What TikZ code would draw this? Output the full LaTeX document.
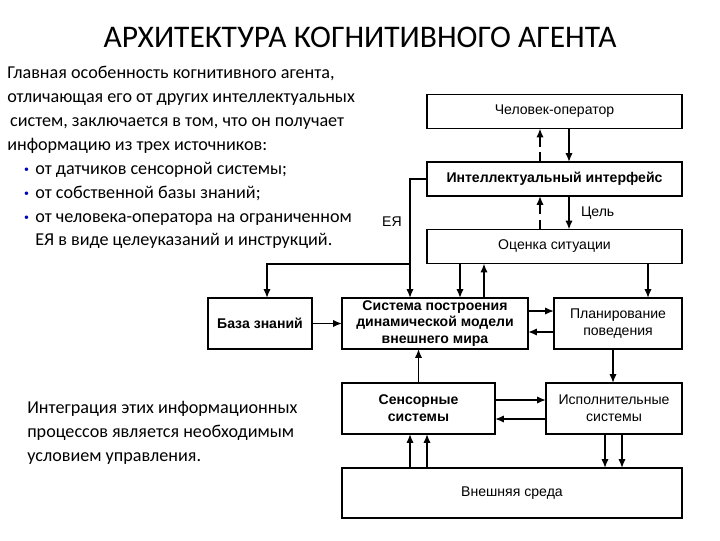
\documentclass[tikz,border=0pt]{standalone}
\usepackage{fontspec}
\setmainfont{Carlito}
\newfontfamily\arialfont{Liberation Sans}
\usepackage{tikz}
\usetikzlibrary{arrows.meta}
\usepackage{xcolor}

\newcommand{\pnkt}{\makebox[8pt][l]{\raisebox{1pt}{\textcolor{blue!75!black}{\scriptsize\textbullet}}}}

\begin{document}
\begin{tikzpicture}[x=0.025cm,y=-0.025cm,
    blok/.style={draw,line width=1.2pt,inner sep=0pt,outer sep=0pt,align=center,
      font=\arialfont\fontsize{10}{12}\selectfont},
    strl/.style={-{Latex[length=2.2mm,width=1.8mm]},line width=1.1pt},
    pstrl/.style={strl,dash pattern=on 7pt off 4pt},
    tekst/.style={anchor=north west,align=left,inner sep=0pt,font=\fontsize{12.9}{17}\selectfont}]
  \useasboundingbox (0,0) rectangle (720,540);

  \node (titul) at (360,37) {\fontsize{22.4}{26}\selectfont АРХИТЕКТУРА КОГНИТИВНОГО АГЕНТА};

  \node[tekst] (opis) at (7,66) {Главная особенность когнитивного агента,\\
    отличающая его от других интеллектуальных\\
    \hspace*{2pt}систем, заключается в том, что он получает\\
    информацию из трех источников:\\
    \hspace*{12pt}\pnkt от датчиков сенсорной системы;\\
    \hspace*{12pt}\pnkt от собственной базы знаний;\\
    \hspace*{12pt}\pnkt от человека-оператора на ограниченном\\
    \hspace*{20pt}ЕЯ в виде целеуказаний и инструкций.};
  \node[tekst] (itog) at (27,401) {Интеграция этих информационных\\
    процессов является необходимым\\
    условием управления.};

  % блоки схемы
  \node[blok,minimum width=6.375cm,minimum height=0.85cm] (oper) at (554.5,111.5) {Человек-оператор};
  \node[blok,minimum width=6.375cm,minimum height=0.85cm] (iface) at (554.5,179) {\bfseries Интеллектуальный интерфейс};
  \node[blok,minimum width=6.375cm,minimum height=0.85cm] (ocenka) at (554.5,246.5) {Оценка ситуации};
  \node[blok,minimum width=2.6cm,minimum height=1.275cm] (baza) at (260,323.5) {\bfseries База знаний};
  \node[blok,minimum width=4.65cm,minimum height=1.275cm] (sys) at (435,323.5) {\bfseries Система построения\\ \bfseries динамической модели\\ \bfseries внешнего мира};
  \node[blok,minimum width=3.2cm,minimum height=1.275cm] (plan) at (618,323.5) {Планирование\\ поведения};
  \node[blok,minimum width=3.825cm,minimum height=1.275cm] (sens) at (418.5,408.5) {\bfseries Сенсорные\\ \bfseries системы};
  \node[blok,minimum width=3.4cm,minimum height=1.275cm] (isp) at (614,408.5) {Исполнительные\\ системы};
  \node[blok,minimum width=8.5cm,minimum height=1.25cm] (sreda) at (512,493) {Внешняя среда};

  % опорные линии для стрелок
  \coordinate (xa) at (540,0);
  \coordinate (xb) at (569,0);
  \coordinate (xd) at (267,0);
  \coordinate (xe) at (410,0);
  \coordinate (xf) at (460,0);
  \coordinate (xg) at (484,0);
  \coordinate (xh) at (648,0);
  \coordinate (xi) at (613,0);
  \coordinate (xj) at (410,0);
  \coordinate (xk) at (427,0);
  \coordinate (xl) at (605,0);
  \coordinate (xm) at (622,0);
  \coordinate (ya) at (0,311);
  \coordinate (yb) at (0,332);
  \coordinate (yc) at (0,400);
  \coordinate (yd) at (0,419);
  \coordinate (ep) at (410,264);

  \draw[pstrl] (iface.north -| xa) -- (oper.south -| xa);
  \draw[strl] (oper.south -| xb) -- (iface.north -| xb);
  \draw[pstrl] (ocenka.north -| xa) -- (iface.south -| xa);
  \draw[strl] (iface.south -| xb) -- (ocenka.north -| xb)
    node[midway,right=8pt,inner sep=0pt,font=\arialfont\fontsize{10}{12}\selectfont] (cel) {Цель};

  \draw[strl] (iface.west) -| (sys.north -| xe);
  \draw[strl] (ep) -| (baza.north -| xd);
  \node[font=\arialfont\fontsize{10}{12}\selectfont] (eya) at (392,222) {ЕЯ};

  \draw[strl] (ocenka.south -| xf) -- (sys.north -| xf);
  \draw[strl] (sys.north -| xg) -- (ocenka.south -| xg);
  \draw[strl] (ocenka.south -| xh) -- (plan.north -| xh);
  \draw[strl] (baza.east) -- (sys.west);
  \draw[strl] (sys.east |- ya) -- (plan.west |- ya);
  \draw[strl] (plan.west |- yb) -- (sys.east |- yb);
  \draw[strl] (plan.south -| xi) -- (isp.north -| xi);
  \draw[strl] (sens.north) -- (sys.south -| sens.north);
  \draw[strl] (sens.east |- yc) -- (isp.west |- yc);
  \draw[strl] (isp.west |- yd) -- (sens.east |- yd);
  \draw[strl] (sreda.north -| xj) -- (sens.south -| xj);
  \draw[strl] (sreda.north -| xk) -- (sens.south -| xk);
  \draw[strl] (isp.south -| xl) -- (sreda.north -| xl);
  \draw[strl] (isp.south -| xm) -- (sreda.north -| xm);
\end{tikzpicture}
\end{document}
